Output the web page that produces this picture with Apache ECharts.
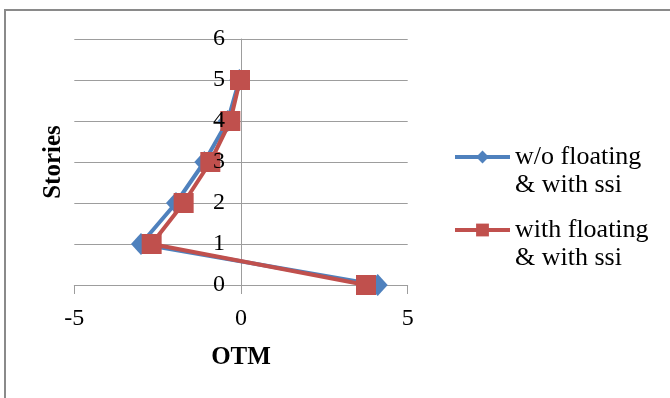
<!DOCTYPE html>
<html>
<head>
<meta charset="utf-8">
<script src="https://cdn.jsdelivr.net/npm/echarts@6/dist/echarts.min.js"></script>
<style>
html,body{margin:0;padding:0;background:#fff;}
#chart{width:670px;height:398px;}
</style>
</head>
<body>
<div id="chart"></div>
<script>
// Data
var stories = [0, 1, 2, 3, 4, 5];
var otmWithoutFloating = [4.1, -3.0, -1.95, -1.1, -0.4, -0.05];
var otmWithFloating = [3.75, -2.68, -1.72, -0.92, -0.32, -0.03];
var seriesNames = ['w/o floating\n& with ssi', 'with floating\n& with ssi'];
var xTicks = [-5, 0, 5];
var yTicks = [0, 1, 2, 3, 4, 5, 6];

function pairs(xs, ys) {
  return xs.map(function (x, i) { return [x, ys[i]]; });
}

var serif = '"Liberation Serif", "DejaVu Serif", serif';
var gridColor = '#9d9d9d';

var chart = echarts.init(document.getElementById('chart'), null, {renderer: 'canvas'});

var gridLeft = 74.3, gridRight = 262.3;
var plotWidth = 670 - gridLeft - gridRight;
// place the vertical axis where x = 0 (Excel "axis crosses at 0")
var yAxisOffset = -plotWidth * (0 - xTicks[0]) / (xTicks[xTicks.length - 1] - xTicks[0]);

var legendText = {
  fontFamily: serif,
  fontSize: 26,
  color: '#000',
  lineHeight: 28,
  rich: {p: {fontSize: 26, lineHeight: 28}}
};
function legendFormatter(name) {
  return '{p| }\n' + name;
}

var yLabelStyle = {fontFamily: serif, fontSize: 24, color: '#000', margin: 16};

chart.setOption({
  animation: false,
  backgroundColor: '#fff',
  graphic: [{
    type: 'rect',
    shape: {x: 5, y: 10, width: 700, height: 420},
    style: {fill: 'none', stroke: '#8a8a8a', lineWidth: 2},
    silent: true,
    z: -1
  }],
  grid: {left: gridLeft, right: gridRight, top: 39, bottom: 113, containLabel: false, outerBoundsMode: 'none'},
  legend: [{
    data: [seriesNames[0]],
    left: 453,
    top: 115,
    padding: 0,
    orient: 'vertical',
    itemWidth: 55,
    itemHeight: 16,
    itemGap: 5,
    lineStyle: {width: 4},
    formatter: legendFormatter,
    textStyle: legendText
  }, {
    data: [seriesNames[1]],
    left: 453,
    top: 188,
    padding: 0,
    orient: 'vertical',
    itemWidth: 55,
    itemHeight: 16,
    itemGap: 5,
    lineStyle: {width: 4},
    formatter: legendFormatter,
    textStyle: legendText
  }],
  xAxis: {
    type: 'value',
    min: xTicks[0],
    max: xTicks[xTicks.length - 1],
    interval: 5,
    name: 'OTM',
    nameLocation: 'middle',
    nameGap: 60,
    nameTextStyle: {fontFamily: serif, fontSize: 25, fontWeight: 'bold', color: '#000'},
    axisLine: {show: true, onZero: true, lineStyle: {color: gridColor, width: 1}},
    axisTick: {show: true, length: 9, inside: false, lineStyle: {color: gridColor, width: 1}},
    axisLabel: {fontFamily: serif, fontSize: 24, color: '#000', margin: 22},
    splitLine: {show: false}
  },
  yAxis: [{
    type: 'value',
    min: yTicks[0],
    max: yTicks[yTicks.length - 1],
    interval: 1,
    offset: yAxisOffset,
    name: 'Stories',
    nameLocation: 'middle',
    nameGap: 175,
    nameTextStyle: {fontFamily: serif, fontSize: 25, fontWeight: 'bold', color: '#000'},
    axisLine: {show: true, onZero: false, lineStyle: {color: gridColor, width: 1}},
    axisTick: {show: false},
    axisLabel: {show: false},
    splitLine: {show: true, lineStyle: {color: gridColor, width: 1}}
  }, {
    // label layer drawn above the series, as in the reference
    type: 'value',
    position: 'left',
    min: yTicks[0],
    max: yTicks[yTicks.length - 1],
    interval: 1,
    offset: yAxisOffset,
    z: 10,
    axisLine: {show: false},
    axisTick: {show: false},
    axisLabel: yLabelStyle,
    splitLine: {show: false}
  }],
  series: [{
    name: seriesNames[0],
    type: 'line',
    yAxisIndex: 0,
    data: pairs(otmWithoutFloating, stories),
    symbol: 'diamond',
    symbolSize: [20, 22],
    lineStyle: {color: '#4F81BD', width: 4},
    itemStyle: {color: '#4F81BD'},
    z: 2
  }, {
    name: seriesNames[1],
    type: 'line',
    yAxisIndex: 0,
    data: pairs(otmWithFloating, stories),
    symbol: 'rect',
    symbolSize: 20,
    lineStyle: {color: '#C0504D', width: 4},
    itemStyle: {color: '#C0504D'},
    z: 3
  }]
});
</script>
</body>
</html>
